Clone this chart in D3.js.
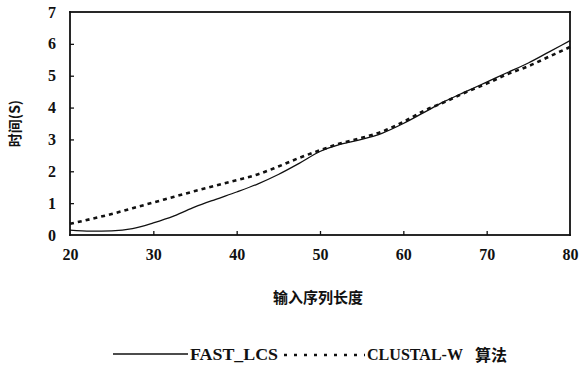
<!DOCTYPE html>
<html>
<head>
<meta charset="utf-8">
<script src="https://cdn.jsdelivr.net/npm/d3@7"></script>
<style>
  html, body { margin: 0; padding: 0; background: #fff; }
  svg { display: block; }
</style>
</head>
<body>
<svg id="chart" width="580" height="374" xmlns="http://www.w3.org/2000/svg"></svg>
<script>
// Input sequence length (x) and running time in seconds for each algorithm
const lengths = [20, 22.5, 25, 27.5, 30, 32.5, 35, 37.5, 40, 42.5, 45, 47.5, 50,
                 52.5, 55, 57.5, 60, 62.5, 65, 67.5, 70, 72.5, 75, 77.5, 80];
const fastLcs = [0.15, 0.12, 0.13, 0.2, 0.38, 0.6, 0.88, 1.12, 1.35, 1.6, 1.9, 2.25, 2.62,
                 2.85, 3.0, 3.2, 3.5, 3.85, 4.2, 4.5, 4.8, 5.1, 5.4, 5.75, 6.1];
const clustalW = [0.35, 0.5, 0.66, 0.84, 1.02, 1.2, 1.38, 1.55, 1.72, 1.9, 2.15, 2.42, 2.66,
                  2.88, 3.05, 3.25, 3.55, 3.9, 4.18, 4.48, 4.75, 5.05, 5.3, 5.6, 5.9];
const xTicks = [20, 30, 40, 50, 60, 70, 80];
const yTicks = [0, 1, 2, 3, 4, 5, 6, 7];
const seriesNames = ["FAST_LCS", "CLUSTAL-W", "算法"];
const xTitle = "输入序列长度";
const yTitle = "时间(S)";

const SERIF = "Liberation Serif";
const CJK = "Noto Sans CJK SC";
const INK = "#111111";

const svg = d3.select("#chart");
const plotLeft = 70, plotRight = 570, plotTop = 12, plotBottom = 235;

const x = d3.scaleLinear().domain([20, 80]).range([plotLeft, plotRight]);
const y = d3.scaleLinear().domain([0, 7]).range([plotBottom, plotTop]);

// Frame around the plotting area, drawn as four thin filled bars
const fw = 1.8;
const frameBars = [
  { x: plotLeft - fw / 2, y: plotTop - fw / 2, w: plotRight - plotLeft + fw, h: fw },
  { x: plotLeft - fw / 2, y: plotBottom - fw / 2, w: plotRight - plotLeft + fw, h: fw },
  { x: plotLeft - fw / 2, y: plotTop - fw / 2, w: fw, h: plotBottom - plotTop + fw },
  { x: plotRight - fw / 2, y: plotTop - fw / 2, w: fw, h: plotBottom - plotTop + fw }
];
svg.append("g").selectAll("rect").data(frameBars).join("rect")
  .attr("x", d => d.x).attr("y", d => d.y).attr("width", d => d.w).attr("height", d => d.h)
  .attr("fill", INK);

// Bottom axis: inward ticks, labels below
const xAxis = d3.axisBottom(x).tickValues(xTicks).tickFormat(d3.format("d"))
  .tickSizeInner(-4).tickSizeOuter(0).tickPadding(14);
const gx = svg.append("g").attr("transform", `translate(0,${plotBottom})`).call(xAxis);
gx.select(".domain").remove();
gx.selectAll(".tick line").attr("stroke", INK).attr("stroke-width", 1.3)
  .style("display", d => (d === 20 || d === 80) ? "none" : null);
gx.selectAll(".tick text")
  .style("font-family", SERIF).style("font-size", "16px").style("font-weight", "bold").style("fill", INK);

// Left axis: inward ticks, labels to the left
const yAxis = d3.axisLeft(y).tickValues(yTicks).tickFormat(d3.format("d"))
  .tickSizeInner(-4).tickSizeOuter(0).tickPadding(14);
const gy = svg.append("g").attr("transform", `translate(${plotLeft},0)`).call(yAxis);
gy.select(".domain").remove();
gy.selectAll(".tick line").attr("stroke", INK).attr("stroke-width", 1.3)
  .style("display", d => (d === 0 || d === 7) ? "none" : null);
gy.selectAll(".tick text")
  .style("font-family", SERIF).style("font-size", "16px").style("font-weight", "bold").style("fill", INK);

// Axis titles
svg.append("text")
  .attr("x", (plotLeft + plotRight) / 2 - 2).attr("y", 303)
  .attr("text-anchor", "middle")
  .style("font-family", CJK).style("font-weight", "bold").style("font-size", "15px").style("fill", INK)
  .text(xTitle);
svg.append("text")
  .attr("transform", `translate(20,${(plotTop + plotBottom) / 2}) rotate(-90)`)
  .attr("text-anchor", "middle")
  .style("font-family", CJK).style("font-weight", "bold").style("font-size", "14px").style("fill", INK)
  .text(yTitle);

// Series lines
const line = d3.line().x(d => x(d[0])).y(d => y(d[1])).curve(d3.curveMonotoneX);
svg.append("path")
  .datum(lengths.map((l, i) => [l, fastLcs[i]]))
  .attr("d", line).attr("fill", "none").attr("stroke", INK).attr("stroke-width", 1.3);
svg.append("path")
  .datum(lengths.map((l, i) => [l, clustalW[i]]))
  .attr("d", line).attr("fill", "none").attr("stroke", INK)
  .attr("stroke-width", 2.6).attr("stroke-dasharray", "4,4");

// Legend
const ly = 354;
svg.append("line").attr("x1", 113).attr("x2", 188).attr("y1", ly).attr("y2", ly)
  .attr("stroke", INK).attr("stroke-width", 1.3);
svg.append("text").attr("x", 190).attr("y", ly + 6)
  .style("font-family", SERIF).style("font-weight", "bold").style("font-size", "16px").style("fill", INK)
  .attr("textLength", 88).attr("lengthAdjust", "spacingAndGlyphs").text(seriesNames[0]);
svg.append("line").attr("x1", 284).attr("x2", 365).attr("y1", ly + 1).attr("y2", ly + 1)
  .attr("stroke", INK).attr("stroke-width", 2.4).attr("stroke-dasharray", "3,7");
svg.append("text").attr("x", 367).attr("y", ly + 6)
  .style("font-family", SERIF).style("font-weight", "bold").style("font-size", "16px").style("fill", INK)
  .attr("textLength", 96).attr("lengthAdjust", "spacingAndGlyphs").text(seriesNames[1]);
svg.append("text").attr("x", 475).attr("y", ly + 7)
  .style("font-family", CJK).style("font-weight", "bold").style("font-size", "16px").style("fill", INK)
  .text(seriesNames[2]);
</script>
</body>
</html>
